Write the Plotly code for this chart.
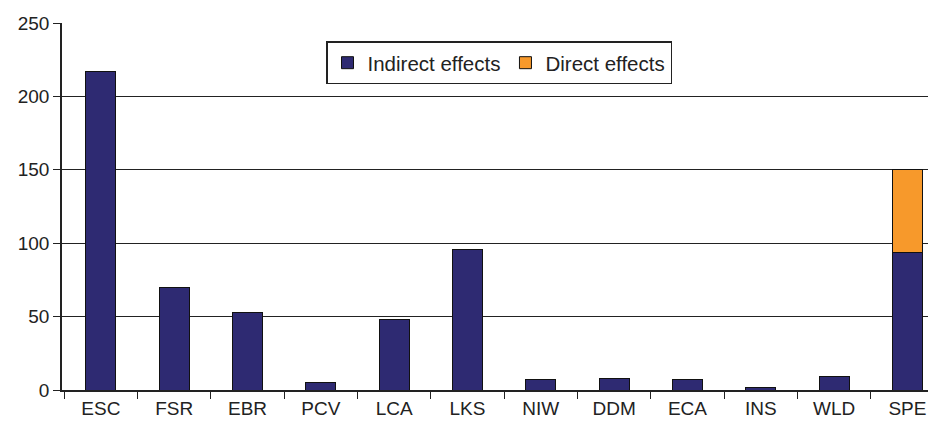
import plotly.graph_objects as go

categories = ["ESC", "FSR", "EBR", "PCV", "LCA", "LKS", "NIW", "DDM", "ECA", "INS", "WLD", "SPE"]
indirect = [217, 70, 53, 5, 48, 96, 7, 8, 7, 2, 9, 93.5]
direct = [0, 0, 0, 0, 0, 0, 0, 0, 0, 0, 0, 56.5]

fig = go.Figure()
fig.add_trace(go.Bar(x=categories, y=indirect, name="Indirect effects",
                     marker=dict(color="#2e2a72", line=dict(color="#111111", width=1))))
fig.add_trace(go.Bar(x=categories, y=direct, name="Direct effects",
                     marker=dict(color="#f7992b", line=dict(color="#111111", width=1))))

fig.update_layout(
    barmode="stack",
    bargap=0.59,
    width=928, height=419,
    margin=dict(l=54, r=0, t=15, b=37, autoexpand=False),
    paper_bgcolor="white", plot_bgcolor="white",
    font=dict(family="Liberation Sans, Arial, sans-serif", size=19, color="#222222"),
    showlegend=True,
    legend=dict(orientation="h", x=0.5, xanchor="center", y=0.95, yanchor="top",
                bordercolor="#222222", borderwidth=1.5, bgcolor="white",
                font=dict(size=20.5), traceorder="normal", itemwidth=30),
)
fig.update_xaxes(
    range=[-0.53, 11.39], showline=True, linecolor="#222222", linewidth=1.5,
    ticks="outside", tickson="boundaries", ticklen=7, tickcolor="#222222",
    showgrid=False, automargin=False,
)
fig.update_yaxes(
    range=[0, 250], tickvals=[0, 50, 100, 150, 200, 250],
    showline=True, linecolor="#222222", linewidth=1.5,
    ticks="outside", ticklen=7, tickcolor="#222222",
    showgrid=True, gridcolor="#222222", gridwidth=1, zeroline=False, automargin=False,
)
fig.write_html("out.html")
